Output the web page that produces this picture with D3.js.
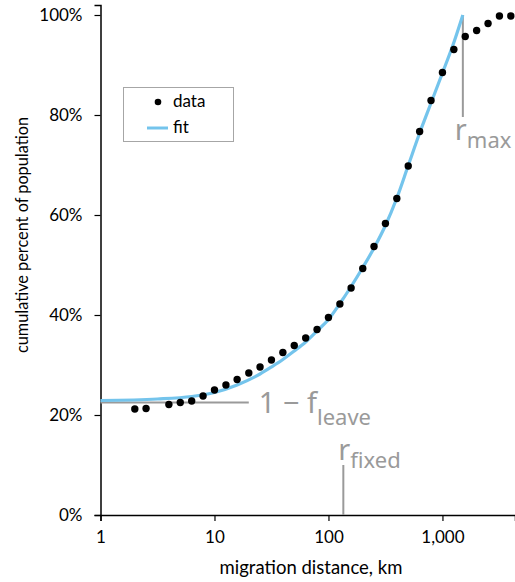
<!DOCTYPE html>
<html>
<head>
<meta charset="utf-8">
<script src="https://cdn.jsdelivr.net/npm/d3@7"></script>
<style>
  body { margin: 0; background: #fff; }
  svg { display: block; }
  .tick text { font-family: Lato, "Open Sans", sans-serif; font-size: 17px; fill: #000; }
</style>
</head>
<body>
<div id="chart"></div>
<script>
// observed data: distance (km) and cumulative percent
const dataKm = [2, 2.51, 3.98, 5.01, 6.31, 7.94, 10, 12.6, 15.8, 20, 25.1, 31.6, 39.8, 50.1, 63.1, 79.4,
    100, 126, 158, 200, 251, 316, 398, 501, 631, 794, 1000, 1259, 1585, 1995, 2512, 3162, 3981];
const dataPct = [21.2, 21.3, 22.1, 22.5, 22.8, 23.8, 25.0, 26.0, 27.1, 28.4, 29.6, 31.0, 32.5, 33.9, 35.4, 37.1,
    39.5, 42.2, 45.4, 49.3, 53.7, 58.3, 63.3, 69.8, 76.7, 82.9, 88.5, 93.1, 95.7, 96.9, 98.3, 99.8, 99.8];

// fitted curve
const fitKm = [1, 3.16, 6.31, 10, 15.8, 25.1, 31.6, 39.8, 50.1, 63.1, 79.4, 100, 126, 158, 200, 251, 316,
    398, 501, 631, 794, 1000, 1259, 1510];
const fitPct = [22.9, 23.2, 23.7, 24.5, 26.0, 28.2, 29.6, 31.1, 32.8, 34.6, 36.8, 39.1, 42.3, 45.7, 49.5, 53.4,
    57.9, 63.4, 69.9, 76.4, 82.4, 88.4, 94.5, 100];

// annotation values
const rMaxKm = 1510;
const rFixedKm = 135;
const oneMinusFLeave = 22.5;
const fLeaveLineEndKm = 20;

const xTicks = [1, 10, 100, 1000];
const yTicks = [0, 20, 40, 60, 80, 100];

const width = 515, height = 582;
const svg = d3.select("#chart").append("svg").attr("width", width).attr("height", height);

const x = d3.scaleLog().domain([1, 4330]).range([100.5, 515]);
const y = d3.scaleLinear().domain([0, 102]).range([515, 5]);

// axes
const xAxis = svg.append("g")
    .attr("transform", `translate(0,${y(0)})`)
    .call(d3.axisBottom(x).tickValues(xTicks).tickFormat(d3.format(",")).tickSizeOuter(0).tickSize(6).tickPadding(10));
xAxis.select(".domain").attr("stroke", "#000").attr("stroke-width", 1.5);
xAxis.selectAll(".tick line").attr("stroke", "#000").attr("stroke-width", 1.2);

const yAxis = svg.append("g")
    .attr("transform", `translate(${x(1)},0)`)
    .call(d3.axisLeft(y).tickValues(yTicks).tickFormat(d => d + "%").tickSizeOuter(0).tickSize(6).tickPadding(12));
yAxis.select(".domain").attr("stroke", "#000").attr("stroke-width", 1.5);
yAxis.selectAll(".tick line").attr("stroke", "#000").attr("stroke-width", 1.2);

svg.append("text")
    .attr("x", 311).attr("y", 574)
    .attr("text-anchor", "middle")
    .style("font-family", "Lato, sans-serif").style("font-size", "18.5px")
    .text("migration distance, km");

svg.append("text")
    .attr("transform", "translate(28,235) rotate(-90)")
    .attr("text-anchor", "middle")
    .style("font-family", "Lato, sans-serif").style("font-size", "16.3px")
    .text("cumulative percent of population");

// gray annotation lines
const gray = "#9a9a9a";
svg.append("line")
    .attr("x1", x(1)).attr("x2", x(fLeaveLineEndKm))
    .attr("y1", y(oneMinusFLeave)).attr("y2", y(oneMinusFLeave))
    .attr("stroke", gray).attr("stroke-width", 2);
svg.append("line")
    .attr("x1", x(rMaxKm)).attr("x2", x(rMaxKm))
    .attr("y1", y(100)).attr("y2", y(79.6))
    .attr("stroke", gray).attr("stroke-width", 2);
svg.append("line")
    .attr("x1", x(rFixedKm)).attr("x2", x(rFixedKm))
    .attr("y1", y(10)).attr("y2", y(0))
    .attr("stroke", gray).attr("stroke-width", 2);

// fit line
const fit = fitKm.map((k, i) => ({ km: k, pct: fitPct[i] }));
svg.append("path")
    .datum(fit)
    .attr("fill", "none")
    .attr("stroke", "#74c4ec")
    .attr("stroke-width", 3.2)
    .attr("d", d3.line().x(d => x(d.km)).y(d => y(d.pct)).curve(d3.curveMonotoneX));

// data points
const points = dataKm.map((k, i) => ({ km: k, pct: dataPct[i] }));
svg.selectAll("circle.pt")
    .data(points)
    .enter()
    .append("circle")
    .attr("class", "pt")
    .attr("cx", d => x(d.km))
    .attr("cy", d => y(d.pct))
    .attr("r", 3.7)
    .attr("fill", "#000");

// annotation labels
function label(xPos, yPos, main, sub, subDy) {
    const t = svg.append("text")
        .attr("x", xPos).attr("y", yPos)
        .style("font-family", "'Noto Sans', sans-serif")
        .attr("fill", gray);
    t.append("tspan").style("font-size", "29px").text(main);
    t.append("tspan").attr("dy", subDy).style("font-size", "22px").text(sub);
}
label(x(fLeaveLineEndKm) + 10, y(oneMinusFLeave) + 10, "1 \u2212 f", "leave", 12);
label(x(rMaxKm) - 8, 140, "r", "max", 8);
label(x(rFixedKm) - 5, 460, "r", "fixed", 8);

// legend
const legend = svg.append("g");
legend.append("rect")
    .attr("x", 123.5).attr("y", 87.5).attr("width", 110).attr("height", 54)
    .attr("fill", "#fff").attr("stroke", "#a6a6a6").attr("stroke-width", 1);
legend.append("circle").attr("cx", 158).attr("cy", 102).attr("r", 3.3).attr("fill", "#000");
legend.append("line").attr("x1", 147).attr("x2", 168).attr("y1", 128).attr("y2", 128)
    .attr("stroke", "#74c4ec").attr("stroke-width", 3);
legend.append("text").attr("x", 173).attr("y", 107)
    .style("font-family", "Lato, sans-serif").style("font-size", "17px").text("data");
legend.append("text").attr("x", 173).attr("y", 133)
    .style("font-family", "Lato, sans-serif").style("font-size", "17px").text("fit");
</script>
</body>
</html>
